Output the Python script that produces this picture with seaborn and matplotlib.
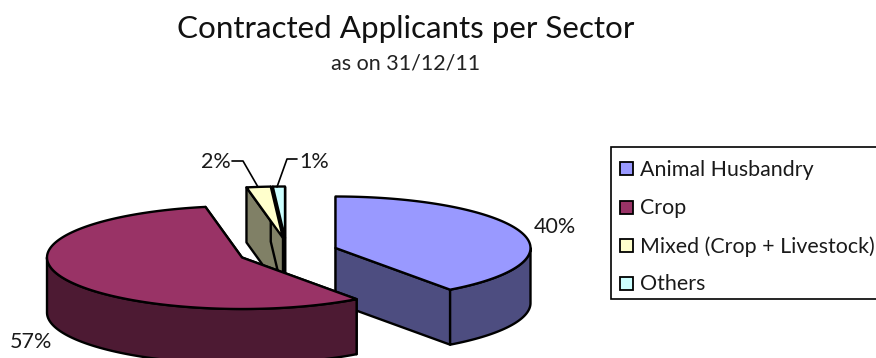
import numpy as np
import matplotlib
matplotlib.use("Agg")
import matplotlib.pyplot as plt
from matplotlib.patches import Polygon, Rectangle
import seaborn as sns

sectors = ["Animal Husbandry", "Crop", "Mixed (Crop + Livestock)", "Others"]
shares = [40, 57, 2, 1]
top_colors = ["#9999FF", "#993366", "#FFFFCC", "#CCFFFF"]
side_colors = ["#4D4D80", "#4D1A33", "#808066", "#668080"]

sns.set_theme(style="white")
plt.rcParams["font.family"] = ["Lato", "DejaVu Sans"]
top_palette = sns.color_palette(top_colors)
side_palette = sns.color_palette(side_colors)

# Pixel-style canvas: y grows downward
fig = plt.figure(figsize=(8.76, 3.58), dpi=100)
ax = fig.add_axes([0, 0, 1, 1])
ax.set_xlim(0, 876)
ax.set_ylim(358, 0)
ax.axis("off")

# Tilted pie projection
RX, RY, DEPTH = 195, 51.5, 55
apexes = [(335.5, 248), (242, 257.5), (283, 238), (285, 238)]
EDGE = dict(edgecolor="black", linewidth=1.7, joinstyle="round")


def rim(center, a0, a1):
    """Outer-edge points between two clockwise-from-north angles."""
    t = np.radians(np.linspace(a0, a1, max(int(abs(a1 - a0) * 2), 4)))
    return np.c_[center[0] + RX * np.sin(t), center[1] - RY * np.cos(t)]


def drop(points):
    return points + np.array([0, DEPTH])


def cut_face(center, angle, color, z):
    edge = rim(center, angle, angle)[0]
    quad = np.array([center, edge, edge + [0, DEPTH], np.array(center) + [0, DEPTH]])
    ax.add_patch(Polygon(quad, closed=True, facecolor=color, zorder=z, **EDGE))


def wedge(i, a0, a1, z):
    c = apexes[i]
    side = side_palette[i]
    # Closing faces come first so the rim and the top sit over them
    cut_face(c, a0, side, z)
    cut_face(c, a1, side, z)
    # Visible outer wall: only the near half of the ellipse (90..270 deg)
    lo, hi = max(a0, 90), min(a1, 270)
    if lo < hi:
        arc = rim(c, lo, hi)
        ax.add_patch(Polygon(np.vstack([arc, drop(arc)[::-1]]), closed=True,
                             facecolor=side, zorder=z + 0.1, **EDGE))
    top = np.vstack([[c], rim(c, a0, a1)])
    ax.add_patch(Polygon(top, closed=True, facecolor=top_palette[i],
                         zorder=z + 0.2, **EDGE))


# Angles follow the shares, clockwise from north
edges = np.concatenate([[0], np.cumsum(shares)]) * 3.6
layer = {0: 2, 1: 3, 2: 1.5, 3: 1}
for i in range(len(shares)):
    wedge(i, edges[i], edges[i + 1], layer[i])

# Percentage labels and their leader lines
label_style = dict(fontsize=15.5, color="#1a1a1a", va="center", ha="center")
ax.text(555, 227, f"{shares[0]}%", **label_style)
ax.text(31, 342, f"{shares[1]}%", **label_style)
ax.text(216, 162, f"{shares[2]}%", **label_style)
ax.text(314, 162, f"{shares[3]}%", **label_style)
ax.plot([232, 243, 258], [161, 161, 187], color="black", lw=1.2, zorder=5)
ax.plot([277, 287, 297], [187, 159, 159], color="black", lw=1.2, zorder=5)

# Titles
ax.text(405.5, 29, "Contracted Applicants per Sector", fontsize=22.6,
        color="#111111", ha="center", va="center")
ax.text(406, 63, "as on 31/12/11", fontsize=15.5, color="#222222",
        ha="center", va="center")

# Legend frame runs past the right edge of the canvas
ax.add_patch(Rectangle((610.5, 147), 270, 152, facecolor="white",
                       edgecolor="black", linewidth=1.2, zorder=6))
legend_y = [168.5, 207, 245, 283]
for name, color, y in zip(sectors, top_palette, legend_y):
    ax.add_patch(Rectangle((619.5, y - 6.5), 13, 13, facecolor=color,
                           edgecolor="black", linewidth=1.3, zorder=7))
    ax.text(640, y + 1.5, name, fontsize=15.4, color="#1a1a1a", va="center",
            zorder=7)

fig.savefig("out.png", dpi=100)
